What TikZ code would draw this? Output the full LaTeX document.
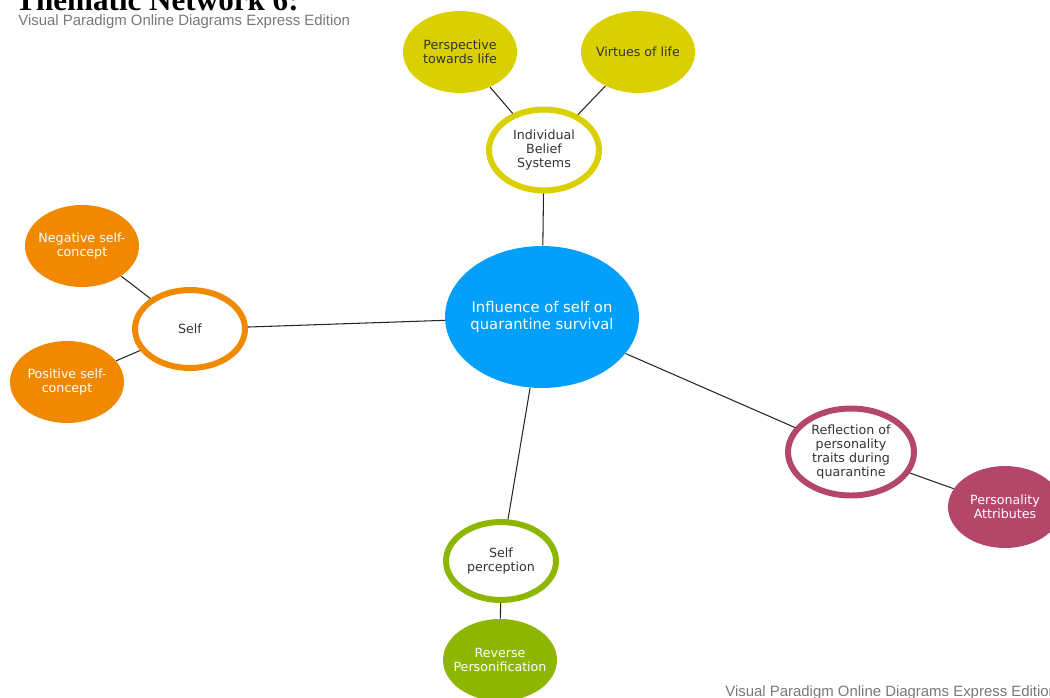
\documentclass[tikz,border=0pt]{standalone}
\usepackage{fontspec}
\setmainfont{Liberation Serif}
\newfontfamily\labelfont{DejaVu Sans}
\newfontfamily\markfont{Liberation Sans}
\usetikzlibrary{shapes.geometric}

\definecolor{hubblue}{RGB}{2,160,250}
\definecolor{beliefyellow}{RGB}{218,208,0}
\definecolor{selforange}{RGB}{240,136,0}
\definecolor{traitmauve}{RGB}{180,70,106}
\definecolor{percgreen}{RGB}{140,182,0}
\definecolor{markgray}{RGB}{120,120,120}

\tikzset{
  hub/.style={ellipse, fill=hubblue, text=white, align=center, inner sep=0pt,
    inner xsep=-8pt, minimum width=3.88cm, minimum height=2.84cm,
    font=\labelfont\fontsize{8.4}{9.6}\selectfont},
  theme/.style={ellipse, draw=#1, fill=white, line width=3.4pt, text=black!80,
    align=center, inner sep=0pt, inner xsep=-6pt, minimum width=2.2cm, minimum height=1.56cm,
    font=\labelfont\fontsize{7.2}{8.1}\selectfont},
  leaf/.style={ellipse, fill=#1, text=white, align=center, inner sep=0pt,
    inner xsep=-10pt, minimum width=2.28cm, minimum height=1.64cm,
    font=\labelfont\fontsize{7.2}{8.1}\selectfont},
  link/.style={draw=black!85, line width=0.6pt},
  watermark/.style={text=markgray, inner sep=0pt, anchor=base west,
    font=\markfont\fontsize{8.5}{9}\selectfont}
}

\begin{document}
\begin{tikzpicture}[x=0.02cm,y=-0.02cm]
    \useasboundingbox (0,0) rectangle (1050,697);
    \clip (0,0) rectangle (1050,697);

    % heading and watermarks
    \node[anchor=base west, inner sep=0pt, font=\bfseries\fontsize{17.7}{18}\selectfont] (title) at (15,10) {Thematic Network 6:};
    \node[watermark] (marktop) at (18,25) {Visual Paradigm Online Diagrams Express Edition};
    \node[watermark] (markbot) at (725,696) {Visual Paradigm Online Diagrams Express Edition};

    % centre
    \node[hub] (hub) at (542,317) {Influence of self on\\quarantine survival};

    % themes
    \node[theme=beliefyellow, minimum width=2.2cm, minimum height=1.62cm] (belief) at (544,150) {Individual\\Belief\\Systems};
    \node[theme=selforange] (self) at (190,329) {Self};
    \node[theme=traitmauve, minimum width=2.52cm, minimum height=1.74cm] (traits) at (851,452) {Reflection of\\personality\\traits during\\quarantine};
    \node[theme=percgreen] (perc) at (501,561) {Self\\perception};

    % leaves
    \node[leaf=beliefyellow, text=black!80] (outlook) at (460,52) {Perspective\\towards life};
    \node[leaf=beliefyellow, text=black!80] (virtue) at (638,52) {Virtues of life};
    \node[leaf=selforange] (negself) at (82,246) {Negative self-\\concept};
    \node[leaf=selforange] (posself) at (67,382) {Positive self-\\concept};
    \node[leaf=traitmauve] (attrib) at (1005,507) {Personality\\Attributes};
    \node[leaf=percgreen] (reverse) at (500,660) {Reverse\\Personification};

    % links
    \draw[link] (hub) -- (belief);
    \draw[link] (hub) -- (self);
    \draw[link] (hub) -- (traits);
    \draw[link] (hub) -- (perc);
    \draw[link] (belief) -- (outlook);
    \draw[link] (belief) -- (virtue);
    \draw[link] (self) -- (negself);
    \draw[link] (self) -- (posself);
    \draw[link] (traits) -- (attrib);
    \draw[link] (perc) -- (reverse);

\end{tikzpicture}
\end{document}
